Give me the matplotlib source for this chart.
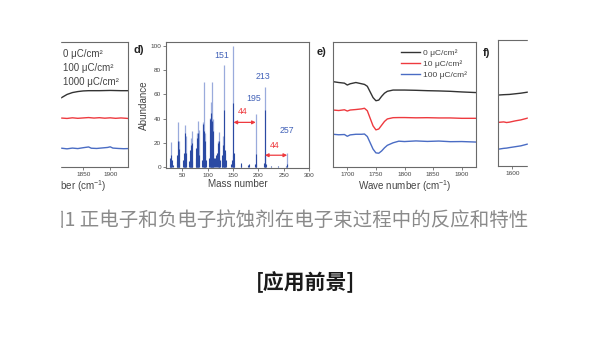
import matplotlib
matplotlib.use("Agg")
import matplotlib.pyplot as plt
from matplotlib.patches import Rectangle

plt.rcParams["font.family"] = ["Liberation Sans", "DejaVu Sans"]
plt.rcParams["mathtext.fontset"] = "custom"
plt.rcParams["mathtext.rm"] = "Liberation Sans"
plt.rcParams["mathtext.it"] = "Liberation Sans:italic"

# ---------------- data ----------------
# panel c (FTIR, right part)
c_wn = [1800, 1810, 1820, 1830, 1840, 1850, 1860, 1870, 1880, 1890, 1900, 1910, 1920, 1933]
c_black = [53.5, 55.5, 58.0, 59.5, 60.3, 60.8, 61.0, 61.0, 61.0, 61.1, 61.2, 61.1, 61.0, 61.0]
c_red = [38.8, 39.2, 38.9, 39.4, 39.0, 39.3, 39.6, 39.2, 39.5, 39.1, 39.4, 39.0, 39.3, 38.9]
c_blue_wn = [1800, 1810, 1820, 1830, 1840, 1850, 1860, 1865, 1875, 1885, 1895, 1900, 1905, 1915, 1925, 1933]
c_blue = [15.0, 15.2, 14.7, 15.3, 14.9, 15.6, 16.2, 15.2, 15.0, 15.4, 15.8, 16.3, 15.3, 15.0, 14.8, 14.9]
c_labels = ["0 \u03bcC/cm\u00b2", "100 \u03bcC/cm\u00b2", "1000 \u03bcC/cm\u00b2"]
c_ticks = [1850, 1900]

# panel d (mass spectrum)
tall_mz = [27, 41, 43, 55, 57, 67, 69, 79, 81, 83, 91, 93, 95, 105, 107, 109, 111,
           121, 123, 131, 133, 151, 195, 213, 257]
tall_ab = [21, 37, 22, 35, 26, 24, 30, 28, 38, 31, 37, 70, 28, 41, 54, 70, 40,
           22, 29, 26, 84, 100, 44, 66, 12]
dense_mz = [25, 26, 27, 28, 29, 31, 39, 40, 41, 42, 43, 44, 51, 53, 54, 55, 56, 57,
            63, 65, 66, 67, 68, 69, 70, 77, 78, 79, 80, 81, 82, 83, 89, 91, 92, 93,
            94, 95, 96, 103, 105, 106, 107, 108, 109, 110, 111, 112, 115, 117, 119,
            121, 122, 123, 124, 128, 129, 131, 132, 133, 134, 135, 137, 147, 149, 150,
            151, 152, 153, 165, 166, 179, 181, 193, 195, 196, 211, 213, 214, 215, 225,
            239, 255, 257]
dense_ab = [3, 8, 10, 4, 6, 2, 10, 5, 22, 8, 15, 3, 6, 12, 6, 28, 10, 12,
            5, 14, 6, 18, 8, 20, 5, 16, 8, 24, 10, 28, 8, 10, 6, 36, 12, 30,
            10, 22, 6, 8, 40, 16, 45, 18, 38, 12, 30, 8, 8, 10, 12,
            20, 8, 22, 6, 6, 10, 18, 12, 47, 14, 12, 6, 3, 6, 10,
            53, 12, 4, 4, 2, 2, 3, 3, 11, 3, 4, 47, 10, 3, 1.5,
            1.5, 1.5, 3]
peak_labels = {151: (128, 92), 195: (191, 57), 213: (210, 75), 257: (257, 30)}
loss_value = 44

# panel e (FTIR, carbonyl region)
e_wn = [1675, 1685, 1695, 1700, 1705, 1715, 1725, 1730, 1735, 1740, 1745, 1750, 1755,
        1760, 1765, 1770, 1780, 1790, 1800, 1820, 1840, 1860, 1880, 1900, 1925]
e_black = [68.2, 67.5, 67.0, 65.5, 66.5, 67.5, 66.5, 66.0, 64.5, 60.0, 55.5, 53.0, 53.5,
           56.5, 59.0, 60.5, 61.5, 61.5, 61.5, 61.3, 61.0, 60.8, 60.5, 60.0, 59.5]
e_red = [45.6, 45.2, 45.8, 44.8, 45.6, 46.0, 46.5, 47.0, 45.0, 39.0, 33.0, 29.8, 30.5,
         33.5, 36.5, 38.5, 39.5, 39.6, 39.6, 39.4, 39.5, 39.3, 39.3, 39.0, 39.0]
e_blue = [26.3, 25.9, 26.1, 24.7, 25.8, 26.3, 26.3, 26.5, 24.5, 19.5, 14.5, 11.5, 11.2,
          13.0, 15.5, 17.5, 19.5, 20.8, 20.5, 21.0, 20.6, 20.9, 20.4, 20.5, 20.1]
e_labels = ["0 \u03bcC/cm\u00b2", "10 \u03bcC/cm\u00b2", "100 \u03bcC/cm\u00b2"]
e_ticks = [1700, 1750, 1800, 1850, 1900]

# panel f (left part)
f_wn = [1575, 1585, 1590, 1595, 1605, 1615, 1625, 1635]
f_black = [56.3, 56.6, 56.7, 56.8, 57.3, 57.8, 58.5, 59.0]
f_red = [34.6, 35.0, 34.5, 34.8, 35.8, 36.6, 37.8, 38.9]
f_blue = [13.3, 14.0, 14.2, 14.6, 15.3, 16.0, 17.2, 18.0]
f_ticks = [1600]

caption = "图1 正电子和负电子抗蚀剂在电子束过程中的反应和特性"
heading = "[应用前景]"

# ---------------- style ----------------
BLACK = "#333333"
RED = "#ee3a3f"
BLUE = "#4a6cc4"
SPINE = "#6a6a6a"
TICK_TXT = "#444444"
LBL_BLUE = "#4262b8"
W, H = 600, 338

fig = plt.figure(figsize=(W / 100, H / 100), dpi=100)
fig.patch.set_facecolor("white")


def ax_px(l, t, r, b):
    return fig.add_axes([l / W, 1 - b / H, (r - l) / W, (b - t) / H])


def style(ax):
    for s in ax.spines.values():
        s.set_color(SPINE)
        s.set_linewidth(0.8)
    ax.tick_params(direction="out", length=2, width=0.6, labelsize=4.6,
                   colors=SPINE, labelcolor=TICK_TXT, pad=1.5)


def ir_legend(ax, labels, x_anchor, size, textpad):
    ax.legend(labels, loc="upper right", bbox_to_anchor=(x_anchor, 0.94),
              frameon=False, fontsize=size, handlelength=2.3, handletextpad=textpad,
              labelspacing=0.38, borderpad=0, borderaxespad=0,
              labelcolor=TICK_TXT)


# panel c
axc = ax_px(-8, 41.7, 128, 167.3)
style(axc)
axc.plot(c_wn, c_black, color=BLACK, lw=1.0)
axc.plot(c_wn, c_red, color=RED, lw=1.0)
axc.plot(c_blue_wn, c_blue, color=BLUE, lw=1.0)
axc.set_xlim(1681, 1933)
axc.set_ylim(0, 100)
axc.set_xticks(c_ticks)
axc.set_yticks([])
axc.set_xlabel("Wave number (cm$^{-1}$)", fontsize=7.1, color=TICK_TXT, labelpad=1)
ir_legend(axc, c_labels, 0.93, 7.0, 0.9)

# panel d
axd = ax_px(166, 41.7, 309, 168)
style(axd)
axd.vlines(tall_mz, 0, tall_ab, color="#9aabdc", lw=0.9)
axd.vlines(dense_mz, 0, dense_ab, color="#2b4aa3", lw=0.8)
axd.set_xlim(18, 300)
axd.set_ylim(-0.5, 103.3)
axd.set_xticks([50, 100, 150, 200, 250, 300])
axd.set_yticks([0, 20, 40, 60, 80, 100])
axd.set_xlabel("Mass number", fontsize=7.1, color=TICK_TXT, labelpad=1)
axd.set_ylabel("Abundance", fontsize=7.1, color=TICK_TXT, labelpad=1)
for mz, (tx, ty) in peak_labels.items():
    axd.text(tx, ty, str(mz), color=LBL_BLUE, fontsize=6.3, ha="center", va="center")
for x0, x1, y, ly in [(151, 195, 37, 46), (213, 257, 10, 18)]:
    axd.annotate("", xy=(x1, y), xytext=(x0, y),
                 arrowprops=dict(arrowstyle="<|-|>", color=RED, lw=0.9,
                                 mutation_scale=5, shrinkA=0, shrinkB=0))
    axd.text((x0 + x1) / 2 - 3, ly, str(loss_value), color=RED, fontsize=6.3,
             ha="center", va="center")

# panel e
axe = ax_px(333, 41.7, 476, 167.3)
style(axe)
axe.plot(e_wn, e_black, color=BLACK, lw=1.0)
axe.plot(e_wn, e_red, color=RED, lw=1.0)
axe.plot(e_wn, e_blue, color=BLUE, lw=1.0)
axe.set_xlim(1675, 1925)
axe.set_ylim(0, 100)
axe.set_xticks(e_ticks)
axe.set_yticks([])
axe.set_xlabel("Wave number (cm$^{-1}$)", fontsize=7.1, color=TICK_TXT, labelpad=1)
ir_legend(axe, e_labels, 0.935, 6.0, 0.35)

# panel f
axf = ax_px(498, 40, 641, 166)
style(axf)
axf.plot(f_wn, f_black, color=BLACK, lw=1.0)
axf.plot(f_wn, f_red, color=RED, lw=1.0)
axf.plot(f_wn, f_blue, color=BLUE, lw=1.0)
axf.set_xlim(1575, 1825)
axf.set_ylim(0, 100)
axf.set_xticks(f_ticks)
axf.set_yticks([])

# panel letters
for letter, x, y in [("d)", 133, 50), ("e)", 317, 52), ("f)", 483, 53)]:
    fig.text(x / W, 1 - y / H, letter, fontsize=8, weight="bold", color="#222222",
             ha="left", va="center")

# caption and section heading
fig.text(45 / W, 1 - 220 / H, caption, fontsize=14, color="#8a8a8a",
         family=["Noto Sans CJK SC", "DejaVu Sans"], ha="left", va="center")
fig.text(305 / W, 1 - 282 / H, heading, fontsize=15, weight="bold", color="#1a1a1a",
         family=["Noto Sans CJK SC", "DejaVu Sans"], ha="center", va="center")

# viewport edges of the image strip
for x0, x1 in [(0, 60), (528, 600)]:
    fig.add_artist(Rectangle((x0 / W, 1 - 240 / H), (x1 - x0) / W, 210 / H,
                             transform=fig.transFigure, color="white", zorder=20))

fig.savefig("out.png", dpi=100, facecolor="white")
